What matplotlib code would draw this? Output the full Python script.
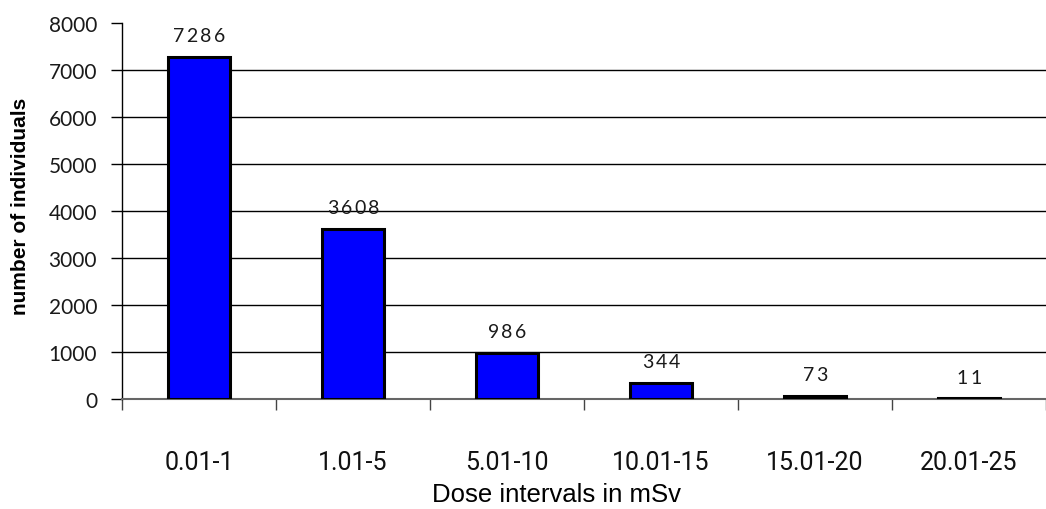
import matplotlib
matplotlib.use("Agg")
import matplotlib.pyplot as plt
from matplotlib.font_manager import FontProperties
from matplotlib.textpath import text_to_path
import numpy as np

categories = ["0.01-1", "1.01-5", "5.01-10", "10.01-15", "15.01-20", "20.01-25"]
values = [7286, 3608, 986, 344, 73, 11]
yticks = [0, 1000, 2000, 3000, 4000, 5000, 6000, 7000, 8000]

fig = plt.figure(figsize=(10.46, 5.10), dpi=100)
ax = fig.add_axes([122/1046, 110/510, 1 - 122/1046, 376/510])

x = np.arange(len(categories))
ax.bar(x, values, width=0.4, color="#0000FF", edgecolor="black", linewidth=2.2, zorder=3)

# value labels with letter spacing
vfs = 14
vprop = FontProperties(family="Lato", size=vfs)
spacing = 1.6  # points
for xi, v in zip(x, values):
    s = str(v)
    widths = [text_to_path.get_text_width_height_descent(c, vprop, ismath=False)[0] for c in s]
    total = sum(widths) + spacing * (len(s) - 1)
    pos = -total / 2
    for c, w in zip(s, widths):
        ax.annotate(c, xy=(xi, v), xytext=(pos + w / 2, 11.5), textcoords="offset points",
                    ha="center", va="baseline", fontproperties=vprop, color="#1a1a1a",
                    zorder=4)
        pos += w + spacing

ax.set_ylim(0, 8000)
ax.set_xlim(-0.5, 5.5 - 10/155.6)
ax.set_yticks(yticks)
ax.set_yticklabels([str(t) for t in yticks], family="Lato", fontsize=15, color="#1a1a1a")
for t in yticks[1:-1]:
    ax.axhline(t, color="black", linewidth=1, zorder=1)

ax.set_xticks(x)
ax.set_xticklabels(categories, family="Roboto", fontsize=18, color="#111111")
ax.tick_params(axis="x", length=0, pad=37)
ax.set_xticks(np.arange(-0.5, 5.6, 1), minor=True)
ax.tick_params(axis="x", which="minor", length=8, width=1, color="#444444", direction="out")
ax.tick_params(axis="y", length=8, width=1, direction="out", pad=10)

for s in ["top", "right"]:
    ax.spines[s].set_visible(False)
ax.spines["left"].set_linewidth(1)
ax.spines["bottom"].set_color("#666666")
ax.spines["bottom"].set_linewidth(1.5)

ax.set_xlabel("Dose intervals in mSv", family="Liberation Sans", fontsize=18.5)
ax.xaxis.set_label_coords((556 - 122) / 924, -(495 - 400) / 376)
ax.xaxis.label.set_va("center")
ax.set_ylabel("number of individuals", family="Liberation Sans", fontsize=15,
              fontweight="bold")
ax.yaxis.set_label_coords(-(122 - 21) / 924, (400 - 206) / 376)
ax.yaxis.label.set_va("center")

fig.savefig("out.png", dpi=100)
